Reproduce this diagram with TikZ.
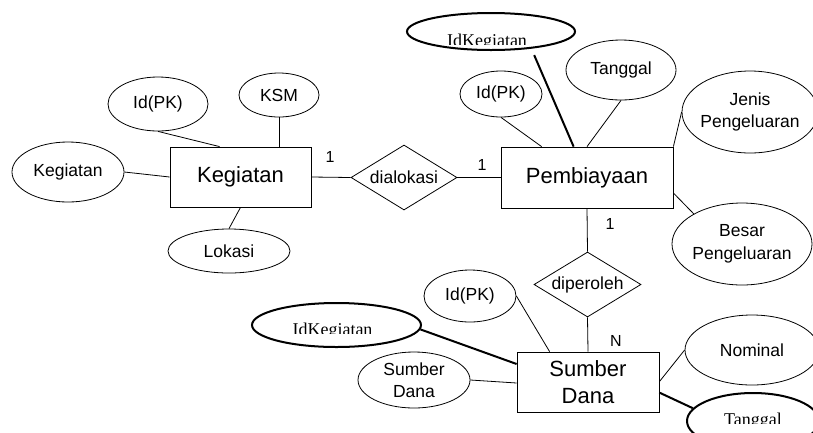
\documentclass[tikz,border=0pt]{standalone}
\usepackage{fontspec}
\setmainfont{Liberation Sans}
\newfontfamily\serifface{Liberation Serif}
\usetikzlibrary{shapes.geometric}
\begin{document}
\begin{tikzpicture}[x=1pt,y=-1pt,
  link/.style={draw, line width=0.8pt},
  fklink/.style={draw, line width=2pt},
  entity/.style={draw, line width=0.8pt, rectangle, inner sep=0pt,
    font=\fontsize{22}{27}\selectfont, align=center},
  attr/.style={draw, line width=0.8pt, ellipse, inner sep=0pt},
  fkattr/.style={attr, line width=2pt},
  rel/.style={draw, line width=0.8pt, diamond, aspect=1.6, inner sep=0pt,
    font=\fontsize{17.5}{22}\selectfont},
  card/.style={font=\fontsize{16}{19}\selectfont, inner sep=0pt},
  txt/.style={font=\fontsize{17.5}{22.5}\selectfont, align=center, inner sep=0pt},
  fktext/.style={font=\serifface\fontsize{18}{21}\selectfont, inner sep=0pt},
]
\useasboundingbox[fill=white] (0,0) rectangle (813,432);
\clip (0,0) rectangle (813,432);

% entities
\node[entity, minimum width=141pt, minimum height=60pt] (keg) at (240.5,177) {Kegiatan};
\node[entity, minimum width=172pt, minimum height=61pt] (pemb) at (587,177.5) {Pembiayaan};
\node[entity, minimum width=142pt, minimum height=60pt] (sd) at (588,382) {Sumber\\Dana};

% relationships
\node[rel, minimum width=106pt, minimum height=65pt] (dial) at (404,177.5) {dialokasi};
\node[rel, minimum width=107pt, minimum height=65pt] (dip) at (587.5,284.5) {diperoleh};

% attributes of Kegiatan
\node[attr, minimum width=100pt, minimum height=54pt, label={[txt]center:Id(PK)}] (kid) at (158,104) {};
\node[attr, minimum width=80pt, minimum height=44pt, label={[txt]center:KSM}] (ksm) at (279,95) {};
\node[attr, minimum width=112pt, minimum height=60pt, label={[txt]center:Kegiatan}] (kname) at (68,172) {};
\node[attr, minimum width=122pt, minimum height=44pt, label={[txt]center:Lokasi}] (lok) at (229,251) {};

% attributes of Pembiayaan
\node[fkattr, minimum width=168pt, minimum height=37pt] (idka) at (491,31.5) {};
\node[attr, minimum width=82pt, minimum height=46pt, label={[txt]center:Id(PK)}] (pid) at (501,94) {};
\node[attr, minimum width=110pt, minimum height=60pt, label={[txt]center:Tanggal}] (ptgl) at (621,70) {};
\node[attr, minimum width=136pt, minimum height=82pt, label={[txt]center:Jenis\\Pengeluaran}] (jenis) at (750,112) {};
\node[attr, minimum width=140pt, minimum height=82pt, label={[txt]center:Besar\\Pengeluaran}] (besar) at (742,244) {};

% attributes of Sumber Dana
\node[attr, minimum width=92pt, minimum height=52pt, label={[txt]center:Id(PK)}] (sid) at (470,296) {};
\node[fkattr, minimum width=169pt, minimum height=44pt] (idkb) at (336.5,325) {};
\node[attr, minimum width=112pt, minimum height=56pt, label={[txt]center:Sumber\\Dana}] (sdn) at (414,380) {};
\node[attr, minimum width=134pt, minimum height=70pt, label={[txt]center:Nominal}] (nom) at (752,350) {};
\node[fkattr, minimum width=132pt, minimum height=56pt] (tglb) at (753,421) {};

% foreign key texts, cut off at the bottom
\begin{scope}
  \clip (400,0) rectangle (590,44);
  \node[fktext, anchor=base] (idkat) at (487,46) {IdKegiatan};
\end{scope}
\begin{scope}
  \clip (240,300) rectangle (430,333);
  \node[fktext, anchor=base] (idkbt) at (332.5,335) {IdKegiatan};
\end{scope}
\begin{scope}
  \clip (680,395) rectangle (813,423);
  \node[fktext, anchor=base] (tglbt) at (753,425) {Tanggal};
\end{scope}

% connectors around Kegiatan
\draw[link] (kid.south) -- ([xshift=50pt]keg.north west);
\draw[link] (ksm.south) -- (ksm.south |- keg.north);
\draw[link] (kname.east) -- (keg.west);
\draw[link] (lok.north) -- (keg.south);
\draw[link] (keg.east) -- (dial.west);
\draw[link] (dial.east) -- (pemb.west);

% connectors around Pembiayaan
\draw[fklink, shorten <=7pt] (idka.-23) -- ([xshift=73pt]pemb.north west);
\draw[link] (pid.south) -- ([xshift=41pt]pemb.north west);
\draw[link] (ptgl.south) -- (pemb.north);
\draw[link] (jenis.west) -- (pemb.north east);
\draw[link] ([yshift=-15.5pt]pemb.east) -- (besar.148);
\draw[link] (pemb.south) -- (dip.north);
\draw[link] (dip.south) -- (sd.north);

% connectors around Sumber Dana
\draw[link] (sid.east) -- ([xshift=33pt]sd.north west);
\draw[fklink] (idkb.-3.5) -- ([yshift=18pt]sd.west);
\draw[link] (sdn.east) -- ([yshift=-1pt]sd.west);
\draw[link] ([yshift=-30pt]sd.north east) -- (nom.west);
\draw[fklink] ([yshift=-41pt]sd.north east) -- (tglb.168);

% cardinalities
\node[card] (c1) at (330,157) {1};
\node[card] (c2) at (482,165) {1};
\node[card] (c3) at (610,224) {1};
\node[card] (c4) at (616,341) {N};
\end{tikzpicture}
\end{document}
